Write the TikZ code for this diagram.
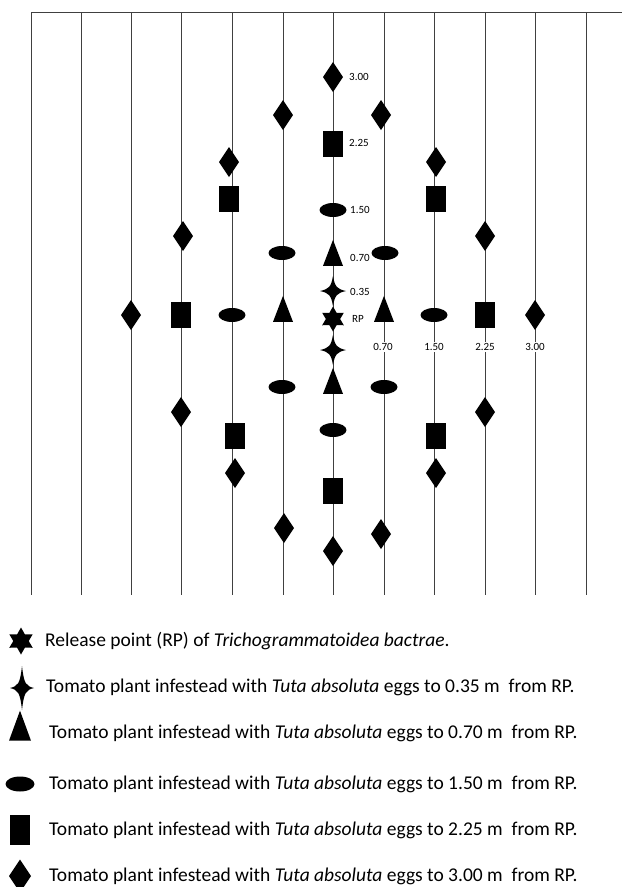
\documentclass[tikz,border=0pt]{standalone}
\usepackage{fontspec}
\setmainfont{Carlito}
\usetikzlibrary{shapes.geometric}
\tikzset{
  mk/.style={fill=black,draw=none,inner sep=0pt,outer sep=0pt},
  dia/.style={mk,diamond,minimum width=20pt,minimum height=30pt},
  sqr/.style={mk,rectangle,minimum width=20pt,minimum height=26pt},
  ell/.style={mk,ellipse,minimum width=27pt,minimum height=14pt},
  tri/.style={mk,isosceles triangle,shape border rotate=90,isosceles triangle stretches=true,minimum width=20pt,minimum height=26pt},
  sixstar/.style={mk,star,star points=6,star point ratio=1.75,minimum size=25pt},
  pt/.style={inner sep=0pt,outer sep=0pt,minimum size=0pt},
  row/.style={draw=black!75,line width=0.9pt},
  lab/.style={font=\fontsize{11}{13}\selectfont,inner sep=0pt,anchor=west},
  leg/.style={font=\fontsize{19.5}{22}\selectfont,inner sep=0pt,anchor=west},
}
% four-pointed star with concave sides, centred on a named node
\newcommand{\quadstar}[3]{% node name, half width, half height
  \fill ([yshift=-#3pt]#1.center)
    .. controls ([xshift=2pt,yshift=-4pt]#1.center) and ([xshift=4pt,yshift=-2pt]#1.center) .. ([xshift=#2pt]#1.center)
    .. controls ([xshift=4pt,yshift=2pt]#1.center) and ([xshift=2pt,yshift=4pt]#1.center) .. ([yshift=#3pt]#1.center)
    .. controls ([xshift=-2pt,yshift=4pt]#1.center) and ([xshift=-4pt,yshift=2pt]#1.center) .. ([xshift=-#2pt]#1.center)
    .. controls ([xshift=-4pt,yshift=-2pt]#1.center) and ([xshift=-2pt,yshift=-4pt]#1.center) .. cycle;}
\begin{document}
\begin{tikzpicture}[x=1pt,y=-1pt]
\useasboundingbox (0,0) rectangle (622,887);
% top line
\draw[row] (31,12) -- (622,12);
% vertical rows
\foreach \i/\xx in {1/31,2/81,3/131,4/181,5/232,6/283,7/333,8/384,9/434,10/485,11/535,12/586}{
  \draw[row] (\xx,12) -- (\xx,595);
}
% central column
\node[dia] (c1) at (333,77) {};
\node[sqr] (c2) at (333,144) {};
\node[ell] (c3) at (333,210) {};
\node[tri] (c4) at (333,259) {};
\node[pt] (c5) at (333,291) {};
\node[sixstar] (rp) at (333,319) {};
\node[pt] (c6) at (333,350) {};
\node[tri] (c7) at (333,387) {};
\node[ell] (c8) at (333,430) {};
\node[sqr] (c9) at (333,491) {};
\node[dia] (c10) at (333,551) {};
\quadstar{c5}{13}{15}
\quadstar{c6}{13}{15}
% central labels
\node[lab] (l1) at (349,77) {3.00};
\node[lab] (l2) at (349,143) {2.25};
\node[lab] (l3) at (350,210) {1.50};
\node[lab] (l4) at (350,258) {0.70};
\node[lab] (l5) at (350,292) {0.35};
\node[lab] (l6) at (352,319) {RP};
% horizontal row
\node[dia] (h1) at (131,315) {};
\node[sqr] (h2) at (181,315) {};
\node[ell] (h3) at (232,315) {};
\node[tri] (h4) at (283,315) {};
\node[tri] (h5) at (384,315) {};
\node[ell] (h6) at (434,315) {};
\node[sqr] (h7) at (485,315) {};
\node[dia] (h8) at (535,315) {};
\node[lab,anchor=center,fill=white,inner sep=1.5pt] (m1) at (383,347) {0.70};
\node[lab,anchor=center,fill=white,inner sep=1.5pt] (m2) at (434,347) {1.50};
\node[lab,anchor=center,fill=white,inner sep=1.5pt] (m3) at (485,347) {2.25};
\node[lab,anchor=center,fill=white,inner sep=1.5pt] (m4) at (535,347) {3.00};
% column x=283
\node[dia] (a1) at (283,115) {};
\node[ell] (a2) at (282,253) {};
\node[ell] (a3) at (282,387) {};
\node[dia] (a4) at (284,528) {};
% column x=384
\node[dia] (b1) at (381,115) {};
\node[ell] (b2) at (385,253) {};
\node[ell] (b3) at (384,387) {};
\node[dia] (b4) at (381,534) {};
% column x=232
\node[dia] (d1) at (229,162) {};
\node[sqr] (d2) at (229,199) {};
\node[sqr] (d3) at (235,436) {};
\node[dia] (d4) at (235,473) {};
% column x=434
\node[dia] (e1) at (436,162) {};
\node[sqr] (e2) at (436,199) {};
\node[sqr] (e3) at (436,436) {};
\node[dia] (e4) at (436,473) {};
% column x=181
\node[dia] (f1) at (183,236) {};
\node[dia] (f2) at (181,412) {};
% column x=485
\node[dia] (g1) at (485,236) {};
\node[dia] (g2) at (485,412) {};
% legend
\node[sixstar,minimum size=27pt] (k1) at (21,641) {};
\node[pt] (k2) at (22,688) {};
\quadstar{k2}{12}{22}
\node[tri,minimum width=22pt,minimum height=30pt] (k3) at (20,733) {};
\node[ell,minimum width=29pt,minimum height=15pt] (k4) at (20,784) {};
\node[sqr,minimum width=20pt,minimum height=30pt] (k5) at (20,830) {};
\node[dia,minimum width=22pt,minimum height=33pt] (k6) at (20,876) {};
\node[leg] (t1) at (45,641) {Release point (RP) of \textit{Trichogrammatoidea bactrae}.};
\node[leg] (t2) at (46,687) {Tomato plant infestead with \textit{Tuta absoluta} eggs to 0.35 m~ from RP.};
\node[leg] (t3) at (49,733) {Tomato plant infestead with \textit{Tuta absoluta} eggs to 0.70 m~ from RP.};
\node[leg] (t4) at (49,784) {Tomato plant infestead with \textit{Tuta absoluta} eggs to 1.50 m~ from RP.};
\node[leg] (t5) at (49,830) {Tomato plant infestead with \textit{Tuta absoluta} eggs to 2.25 m~ from RP.};
\node[leg] (t6) at (49,876) {Tomato plant infestead with \textit{Tuta absoluta} eggs to 3.00 m~ from RP.};
\end{tikzpicture}
\end{document}
